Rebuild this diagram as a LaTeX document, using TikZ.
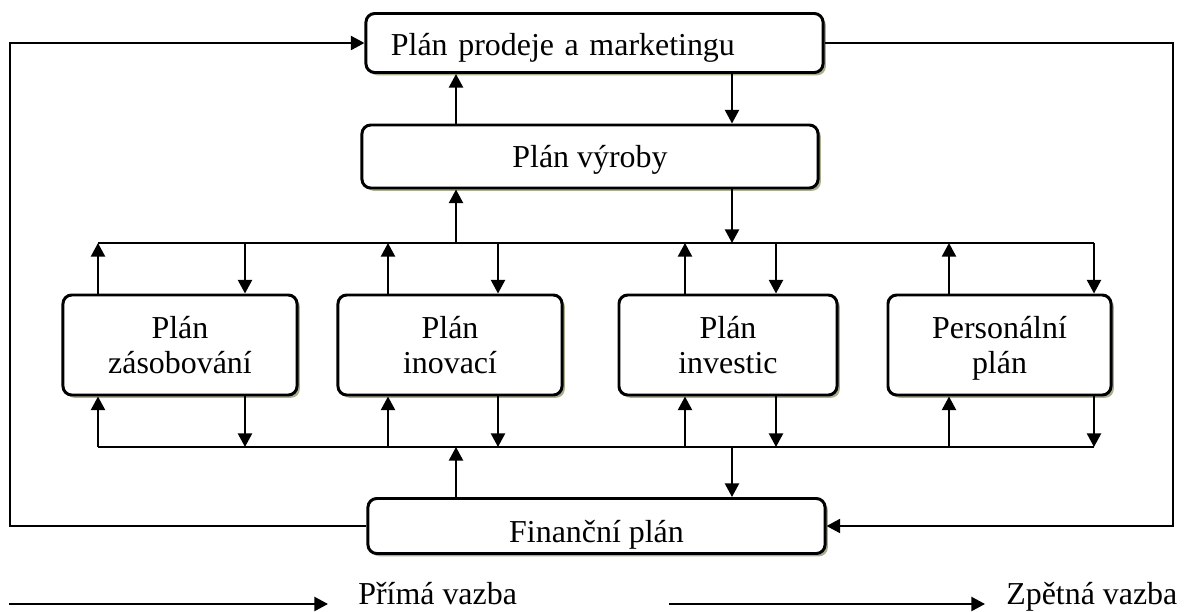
\documentclass[tikz,border=0pt]{standalone}
\usepackage{fontspec}
\setmainfont{Liberation Serif}
\usepackage{xcolor}
\usepackage{tikz}
\usetikzlibrary{arrows.meta, shadows}
\definecolor{PlanShadow}{HTML}{A9B08E}
\tikzset{
  planbox/.style={draw=black, line width=2.1pt, fill=white, rectangle, rounded corners=0.22cm,
                  inner sep=0pt, align=center, font=\fontsize{22.7pt}{24.9pt}\selectfont,
                  drop shadow={shadow xshift=0.07cm, shadow yshift=-0.07cm, fill=PlanShadow, opacity=1}},
  subplan/.style={planbox, minimum height=2.5cm, text depth=0pt},
  legendtext/.style={font=\fontsize{22.7pt}{24.9pt}\selectfont, inner sep=0pt, anchor=base west},
  arrowstd/.style={-{Triangle[length=0.34cm, width=0.35cm]}, line width=1.6pt},
  busline/.style={line width=1.6pt}
}

\begin{document}
\begin{tikzpicture}[x=0.025cm, y=-0.025cm]
  \useasboundingbox (0,0) rectangle (1192,612);

  \node[planbox, minimum width=11.425cm, minimum height=1.475cm, text width=10.175cm, align=left,
        text height=0.6cm, text depth=0pt] (mkt) at (594.5,43) {Plán prodeje a marketingu};
  \node[planbox, minimum width=11.4cm, minimum height=1.575cm, text height=0.55cm, text depth=0pt] (vyroba) at (590,156.5) {Plán výroby};
  \node[subplan, minimum width=5.85cm] (zasob) at (180,345) {Plán\\zásobování};
  \node[subplan, minimum width=5.6cm] (inovace) at (450,345) {Plán\\inovací};
  \node[subplan, minimum width=5.45cm] (investice) at (728,345) {Plán\\investic};
  \node[subplan, minimum width=5.575cm] (personal) at (999.5,345) {Personální\\plán};
  \node[planbox, minimum width=11.425cm, minimum height=1.375cm, text height=0.825cm, text depth=0pt] (finance) at (596.5,526) {Finanční plán};

  % sběrnice
  \coordinate (busT1) at (98,243);
  \coordinate (busT2) at (1094,243);
  \coordinate (busB1) at (98,447);
  \coordinate (busB2) at (1094,447);
  \draw[busline] (busT1) -- (busT2);
  \draw[busline] (busB1) -- (busB2);

  \coordinate (cUp) at (456,300);
  \coordinate (cDn) at (732,300);
  \draw[arrowstd] (vyroba.north -| cUp) -- (mkt.south -| cUp);
  \draw[arrowstd] (mkt.south -| cDn) -- (vyroba.north -| cDn);
  \draw[arrowstd] (busT1 -| cUp) -- (vyroba.south -| cUp);
  \draw[arrowstd] (vyroba.south -| cDn) -- (busT1 -| cDn);
  \draw[arrowstd] (finance.north -| cUp) -- (busB1 -| cUp);
  \draw[arrowstd] (busB1 -| cDn) -- (finance.north -| cDn);

  \foreach \plan/\xu/\xd in {zasob/98/245, inovace/388/498, investice/685/776, personal/949/1094} {
    \coordinate (tu) at (\xu,243);
    \coordinate (td) at (\xd,243);
    \coordinate (bu) at (\xu,447);
    \coordinate (bd) at (\xd,447);
    \draw[arrowstd] (\plan.north -| tu) -- (tu);
    \draw[arrowstd] (td) -- (\plan.north -| td);
    \draw[arrowstd] (bu) -- (\plan.south -| bu);
    \draw[arrowstd] (\plan.south -| bd) -- (bd);
  }

  % zpětné vazby
  \coordinate (fbL) at (10,300);
  \coordinate (fbR) at (1173,300);
  \draw[arrowstd] (finance.west) -- (finance.west -| fbL) |- (mkt.west);
  \draw[arrowstd] (mkt.east) -- (mkt.east -| fbR) |- (finance.east);

  % legenda
  \coordinate (lgA1) at (9,604);
  \coordinate (lgA2) at (328,604);
  \coordinate (lgB1) at (669,604);
  \coordinate (lgB2) at (985,604);
  \draw[arrowstd] (lgA1) -- (lgA2);
  \draw[arrowstd] (lgB1) -- (lgB2);
  \node[legendtext] (lgAtext) at (358,604) {Přímá vazba};
  \node[legendtext] (lgBtext) at (1006,604) {Zpětná vazba};
\end{tikzpicture}
\end{document}
